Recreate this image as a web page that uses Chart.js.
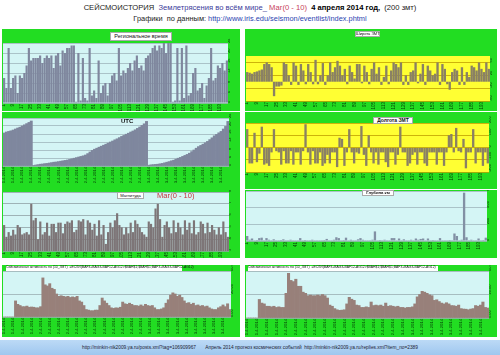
<!DOCTYPE html>
<html><head><meta charset="utf-8">
<script src="https://cdn.jsdelivr.net/npm/chart.js@4.4.1/dist/chart.umd.min.js"></script>
<style>
body{margin:0;width:500px;height:355px;background:#fff;position:relative;overflow:hidden;font-family:"Liberation Sans",Arial,sans-serif;}
.abs{position:absolute;}
.panel{position:absolute;background:#22dd22;}
.panel canvas{position:absolute;left:0;top:0;}
.tbox{position:absolute;background:#fff;color:#111;white-space:nowrap;border:1px solid #aaa;box-sizing:border-box;text-align:center;}
</style></head><body>
<div class="abs" style="left:0;top:3px;width:500px;text-align:center;font-size:7.6px;line-height:9px;white-space:nowrap;color:#222">СЕЙСМОИСТОРИЯ&nbsp; <span style="color:#3b3b9a">Землетрясения во всём мире_</span>&nbsp;<span style="color:#c8405a">Маг(0 - 10)</span>&nbsp; <b style="color:#000">4 апреля 2014 год,</b>&nbsp; (200 змт)</div>
<div class="abs" style="left:0;top:14px;width:500px;text-align:center;font-size:7.4px;line-height:9px;white-space:nowrap;color:#222">Графики&nbsp; по данным: <span style="color:#2a3fb0">http://www.iris.edu/seismon/eventlist/index.phtml</span></div>

<div id="p1" class="panel"></div>
<div id="p2" class="panel"></div>
<div id="p3" class="panel"></div>
<div id="p4" class="panel"></div>
<div id="p5" class="panel"></div>
<div id="p6" class="panel"></div>
<div id="p7" class="panel"></div>
<div id="p8" class="panel"></div>

<div class="tbox" style="left:110px;top:32px;width:62px;height:9px;font-size:5.5px;line-height:7px">Региональное время</div>
<div class="tbox" style="left:355px;top:31px;width:25px;height:6px;font-size:4px;line-height:4px">Широта ЗМТ</div>
<div class="abs" style="left:121px;top:118px;font-size:6px;font-weight:bold;color:#111">UTC</div>
<div class="tbox" style="left:373px;top:117px;width:40px;height:7px;font-size:5px;line-height:5px;font-weight:bold">Долгота ЗМТ</div>
<div class="tbox" style="left:117px;top:192px;width:27px;height:7px;font-size:4.2px;line-height:5px">Магнитуда</div>
<div class="abs" style="left:157px;top:191px;font-size:7.5px;color:#c8323c">Маг(0 - 10)</div>
<div class="tbox" style="left:362px;top:190px;width:32px;height:6px;font-size:4.2px;line-height:4px;font-weight:bold">Глубина км</div>
<div class="tbox" style="left:6px;top:266px;width:176px;height:5px;font-size:3.4px;line-height:3px;text-align:left;border:none">Сейсмическая активность по (10_ЗМТ)&nbsp; =ЕСЛИ(BAF3+BAG3-BAF12-AG12&gt;$BAH$1;$BAH$1;BAF3+BAG3-BAF12-AG12)</div>
<div class="tbox" style="left:248px;top:266px;width:190px;height:5px;font-size:3.4px;line-height:3px;text-align:left;border:none">Сейсмическая активность по (10_ЗМТ)&nbsp; =ЕСЛИ(BAF3+BAG3-BAF12-AG12&gt;$BAH$1;$BAH$1;BAF3+BAG3-BAF12-AG12)</div>

<div class="abs" style="left:0;top:340px;width:500px;height:15px;background:linear-gradient(#bcdaf6,#9fc7ef);"></div>
<div class="abs" style="left:0;top:345px;width:500px;text-align:center;font-size:4.8px;line-height:6px;color:#223;white-space:nowrap">http://minkin-nik2009.ya.ru/posts.xml?tag=106909967 &nbsp;&nbsp;&nbsp;&nbsp;&nbsp; Апрель 2014 прогноз космических событий&nbsp; http://minkin-nik2009.ya.ru/replies.xml?item_no=2389</div>

<script>
// ---------- DATA ----------
const eventNo = [1,3,5,7,9,11,13,15,17,19,21,23,25,27,29,31,33,35,37,39,41,43,45,47,49,51,53,55,57,59,61,63,65,67,69,71,73,75,77,79,81,83,85,87,89,91,93,95,97,99,101,103,105,107,109,111,113,115,117,119,121,123,125,127,129,131,133,135,137,139,141,143,145,147,149,151,153,155,157,159,161,163,165,167,169,171,173,175,177,179,181,183,185,187,189,191,193,195,197,199];
const dayNames = ['1.4.2014','2.4.2014','3.4.2014'];
const dayCounts = [13,51,36];

const regionalTime = [10,6,22,6,10,11,4,11,10,12,15,22,17,18,18,18,19,16,18,19,18,19,14,19,20,15,21,20,22,22,23,23,0.5,20,1,18,2,1,22,3,5,2,17,4,7,8,3,8,11,12,9,22,11,13,12,14,16,13,17,19,14,15,13,18,19,20,22,23,21,23,22,24,20,24,24,0.5,1,22,1,22,2,23,3,4,12,14,5,6,8,2,7,10,22,9,10,15,14,16,13,17];

const latitude = [30,28,25,30,32,35,38,55,60,55,45,-45,-15,-15,-12,60,55,20,-10,60,50,-10,55,35,-8,55,30,-8,68,-8,20,58,-10,20,60,30,45,65,50,20,40,-8,50,30,10,55,55,-5,50,30,-8,40,60,25,45,-10,15,50,-8,35,60,55,45,60,-10,20,-10,30,35,60,-5,25,55,-10,50,35,20,25,60,-10,55,40,-8,-25,30,40,35,-10,45,-10,30,15,50,45,35,60,40,30,60,40];

const utcHours = [16.5,17.0,17.3,17.6,18.0,18.5,19.0,19.4,20.0,20.6,21.2,21.8,22.5,
 0.3,0.5,0.7,0.9,1.0,1.2,1.3,1.5,1.7,1.9,2.0,2.2,2.4,2.6,2.8,3.0,3.3,3.6,3.9,4.2,4.5,4.8,5.1,5.5,6.2,7.0,7.8,8.4,8.9,9.4,9.9,10.4,10.9,11.4,12.0,12.5,13.1,13.6,14.2,14.8,15.3,15.9,16.4,17.0,17.5,18.1,18.8,19.5,20.3,21.1,22.3,
 0.4,0.6,0.7,0.8,0.9,1.1,1.3,1.6,1.9,2.2,2.6,2.9,3.4,3.9,4.3,4.8,5.3,5.8,6.4,7.2,8.0,8.9,9.7,10.3,10.9,11.6,12.3,13.2,14.1,15.1,15.8,16.6,17.3,18.5,19.8,22.3];

const longitude = [150,-130,-130,120,-120,-50,170,-140,-130,-150,-40,150,-30,-40,-140,-30,-130,-130,-30,-140,-40,-40,-140,-30,190,-40,-140,-30,-130,-130,-40,-150,-130,-60,-130,-40,-40,-160,80,70,-150,-40,150,-40,-130,-40,-50,175,-60,-150,100,-40,-130,-40,-140,-40,-40,-120,-160,-40,-40,-140,-60,170,-40,-40,-150,-130,-60,-40,-140,-40,-40,-130,-150,-40,-40,-40,-140,-40,-40,-150,-40,100,110,-40,160,-30,-40,70,-170,-40,-40,150,-130,-40,-40,-150,-40,-130];

const magnitude = [5.2,4.2,4.6,4.3,4.8,4.4,5.2,5.0,4.4,4.5,4.6,4.4,7.0,5.6,5.8,4.0,5.5,4.4,4.6,5.4,4.3,5.3,5.3,4.6,5.4,5.4,4.5,5.3,5.5,5.4,5.6,4.6,4.8,5.6,5.5,5.7,4.4,5.6,5.4,4.8,5.3,4.3,5.6,4.4,5.2,3.6,4.6,5.4,5.0,5.6,6.2,5.2,5.0,4.4,5.0,4.5,5.4,4.6,5.6,5.3,5.0,4.6,4.4,4.2,5.5,5.3,5.0,6.6,7.0,5.7,4.2,5.2,5.5,5.0,4.5,5.6,4.6,5.4,5.0,4.4,5.6,4.8,5.4,4.5,5.6,4.4,4.6,5.5,5.3,4.5,5.4,4.6,5.2,4.8,4.4,5.0,4.4,5.5,4.6,4.2];

const depthKm = [60,15,30,10,12,35,40,10,35,15,10,20,10,10,12,20,10,10,15,10,10,10,35,10,12,10,10,15,10,10,10,10,12,25,10,10,15,45,35,10,12,40,10,15,10,10,20,35,15,10,10,10,15,115,10,12,10,15,10,10,35,35,10,30,10,20,10,10,15,10,30,15,25,30,10,30,10,12,10,10,35,10,10,10,12,10,90,60,10,15,580,45,10,15,10,10,30,10,12,40];

const activityA = [0,0,0,0,0,14,11,10,9,9,9.5,8.5,8.7,8.5,8,8,9,34,28,27,29,25,24,20,18,18.5,18,17.5,18,17,17.5,17,18,14,13,10,6.5,6,5.5,5.5,6,6,10,16.5,14,12,10,8,7.5,8,7.8,8.5,13,11.5,11,12,11,10,10,9.5,10.5,9.5,11,10,9.5,10,8,6.5,6.5,7,8,12,15,19,21,20,18,19,17,14,12,12.5,11,12,10,10.5,9.5,10,9,9.5,8,7,6.5,6.5,8,9,10.5,9,11.5,6.5];

const activityB = [0,0,0,0,0,15.8,12.7,12,10,10,9.5,10,9,9.5,9,9,21,38,32,31,33,27,27,22,21,19,19.5,19,19,19.5,19,20,19,17,11,10,8,7,6.5,6.7,7,12,17.6,16,15,11,10.6,9,9,9.5,9,13.6,10.6,11,10.5,11,10,12.7,10,10.5,10,9.5,10,9,9,8.5,9,9,9.5,12,18,20,22.7,22,21,19.7,19,15,15.5,14,12.7,12,13,12,10.6,10.5,10,11,8,7.6,7.5,7,7.6,8,10.6,10,11,13.6,9,8.5];

// ---------- LABEL BUILD ----------
const eventLabels = eventNo.map(String);
const dateLabels = [];
dayNames.forEach((d,i)=>{ for(let k=0;k<dayCounts[i];k++) dateLabels.push(d); });

// ---------- CHART HELPERS ----------
const plotBg = {
  id:'plotBg',
  beforeDraw(chart, args, opts){
    const a = chart.chartArea, c = chart.ctx;
    c.save(); c.fillStyle = opts.color; c.fillRect(a.left, a.top, a.right-a.left, a.bottom-a.top); c.restore();
  }
};

function panel(id, box, plot, o){
  const el = document.getElementById(id);
  el.style.left = box[0]+'px'; el.style.top = box[1]+'px';
  el.style.width = box[2]+'px'; el.style.height = box[3]+'px';
  const cv = document.createElement('canvas');
  cv.width = box[2]; cv.height = box[3];
  el.appendChild(cv);
  const padL = plot[0]-box[0], padT = plot[1]-box[1];
  const rightW = (box[0]+box[2]) - plot[2];
  const bottomH = (box[1]+box[3]) - plot[3];
  new Chart(cv.getContext('2d'), {
    type:'bar',
    data:{labels:o.labels, datasets:[{data:o.values, backgroundColor:o.barColor, borderWidth:0,
      barPercentage:o.barPct||0.96, categoryPercentage:1}]},
    options:{
      responsive:false, animation:false, devicePixelRatio:1,
      layout:{padding:{left:padL, top:padT, right:0, bottom:0}},
      plugins:{legend:{display:false}, tooltip:{enabled:false}, title:{display:false}, plotBg:{color:o.plotColor}},
      scales:{
        x:{
          grid:{display:false, drawTicks:false}, border:{display:false},
          ticks:{autoSkip:true, autoSkipPadding:o.xSkip||2.5, minRotation:90, maxRotation:90,
            font:{size:o.xFont||4.5, family:'Liberation Sans'}, color:'#063a06', padding:1},
          afterFit(s){ s.height = bottomH; s.paddingLeft = 0; s.paddingRight = 0; }
        },
        y:{
          position:'right', min:o.min, max:o.max,
          grid:{color:o.gridColor, drawTicks:false, lineWidth:0.8}, border:{display:false},
          ticks:{stepSize:o.step, font:{size:4, family:'Liberation Sans'}, color:'#0a2a0a', padding:1,
            minRotation:90, maxRotation:90, callback:o.fmt ? o.fmt : (v)=>v},
          afterFit(s){ s.width = rightW; s.paddingTop = 0; s.paddingBottom = 0; }
        }
      }
    },
    plugins:[plotBg]
  });
}

const CYAN = '#d4f5f5', YEL = '#ffff33';
panel('p1',[2,29,238,82],[3,43,228,103],{labels:eventLabels, values:regionalTime, barColor:'#7f879e', plotColor:CYAN, gridColor:'#9fb6bd', min:0, max:24, step:2});
panel('p2',[245,29,252,82],[246,56,490,101],{labels:eventLabels, values:latitude, barColor:'#8a8164', plotColor:YEL, gridColor:'#c0a000', min:-60, max:80, step:20});
panel('p3',[2,112,238,78],[3,118,229,166],{labels:dateLabels, values:utcHours, barColor:'#7f879e', plotColor:CYAN, gridColor:'#9fb6bd', min:0, max:24, step:2, xFont:4.2, barPct:1});
panel('p4',[245,112,252,77],[246,123,489,172],{labels:eventLabels, values:longitude, barColor:'#8a8164', plotColor:YEL, gridColor:'#c0a000', min:-200, max:200, step:50});
panel('p5',[2,190,238,68],[3,192,229,251],{labels:eventLabels, values:magnitude, barColor:'#7d7577', plotColor:CYAN, gridColor:'#90a2a6', min:3, max:8, step:1});
panel('p6',[245,190,252,68],[246,191,487,241],{labels:eventLabels, values:depthKm, barColor:'#8290a4', plotColor:CYAN, gridColor:'#9fb6bd', min:0, max:600, step:100});
panel('p7',[2,265,238,72],[3,271,231,317],{labels:dateLabels, values:activityA, barColor:'#98807a', plotColor:CYAN, gridColor:'#9aaeb2', min:0, max:40, step:20, xFont:4.2, barPct:1, fmt:(v)=>v.toFixed(2)});
panel('p8',[245,265,252,72],[246,271,489,318],{labels:dateLabels, values:activityB, barColor:'#98807a', plotColor:CYAN, gridColor:'#9aaeb2', min:0, max:40, step:10, xFont:4.2, barPct:1, fmt:(v)=>v.toFixed(2)});
</script>
</body></html>
